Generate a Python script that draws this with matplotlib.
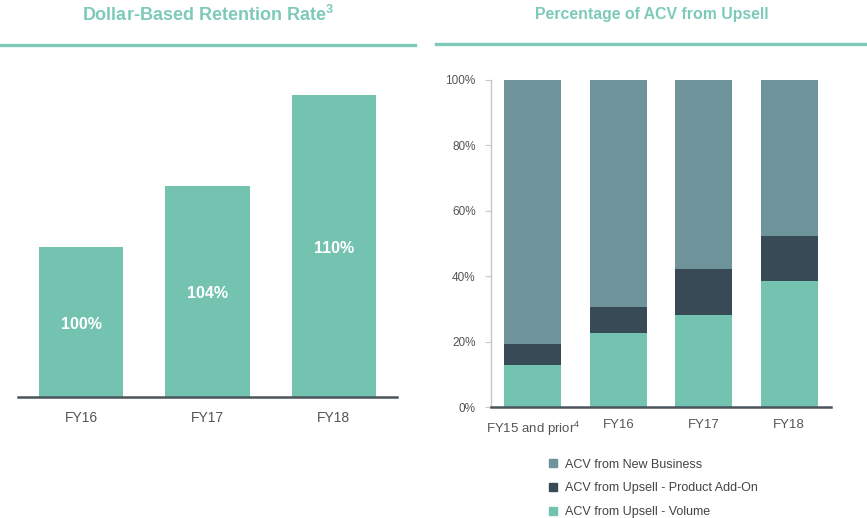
import matplotlib
matplotlib.use("Agg")
import matplotlib.pyplot as plt
from matplotlib.patches import Patch
from matplotlib.lines import Line2D

plt.rcParams['font.family'] = ['Liberation Sans', 'DejaVu Sans']
plt.rcParams['mathtext.fontset'] = 'custom'
plt.rcParams['mathtext.rm'] = 'Liberation Sans'
plt.rcParams['mathtext.bf'] = 'Liberation Sans:bold'

# ---- data ----
retention_years = ["FY16", "FY17", "FY18"]
retention_rate = [100, 104, 110]

acv_years = ["FY15 and prior$^{4}$", "FY16", "FY17", "FY18"]
acv_volume = [12.8, 22.7, 28.0, 38.6]
acv_addon = [6.5, 7.9, 14.1, 13.6]
acv_new = [100 - v - a for v, a in zip(acv_volume, acv_addon)]
pct_ticks = [0, 20, 40, 60, 80, 100]

TEAL = "#74c3b1"
SLATE = "#6f939b"
DARK = "#394a57"
TITLE_C = "#7dcab8"
AXIS_C = "#4a545c"
TXT = "#555555"

W, H = 867, 518
fig = plt.figure(figsize=(W / 100, H / 100), dpi=100)

def fx(px):
    return px / W

def fy(py):
    return 1 - py / H

# ---- titles and rules ----
fig.text(fx(208), fy(15), r"Dollar-Based Retention Rate$^{\mathbf{3}}$", ha="center", va="center",
         fontsize=13, fontweight="bold", color=TITLE_C)
fig.text(fx(652), fy(14), "Percentage of ACV from Upsell", ha="center", va="center",
         fontsize=11.4, fontweight="bold", color=TITLE_C)
fig.add_artist(Line2D([fx(0), fx(415)], [fy(44.5), fy(44.5)], color=TITLE_C, lw=2.4,
                      transform=fig.transFigure))
fig.add_artist(Line2D([fx(436), fx(867)], [fy(43.5), fy(43.5)], color=TITLE_C, lw=2.4,
                      transform=fig.transFigure))

# ---- left chart ----
ax1 = fig.add_axes([fx(18), fy(397), fx(379), (397 - 60) / H])
ymin1 = 90.08
scale = 15.15  # px per unit
ax1.set_ylim(ymin1, ymin1 + (397 - 60) / scale)
ax1.set_xlim(-0.5, 2.5)
x1 = list(range(len(retention_years)))
ax1.bar(x1, [r - ymin1 for r in retention_rate], bottom=ymin1, width=0.667, color=TEAL)
for xi, r in zip(x1, retention_rate):
    ax1.text(xi, (ymin1 + r) / 2 - 0.15, f"{r}%", ha="center", va="center", color="white",
             fontsize=11.5, fontweight="bold")
ax1.set_xticks(x1)
ax1.set_xticklabels(retention_years, fontsize=10, color=TXT)
ax1.tick_params(axis="x", length=0, pad=10)
ax1.set_yticks([])
for s in ["top", "right", "left"]:
    ax1.spines[s].set_visible(False)
ax1.spines["bottom"].set_color(AXIS_C)
ax1.spines["bottom"].set_linewidth(1.8)

# ---- right chart ----
ax2 = fig.add_axes([fx(491), fy(407), fx(340), 327 / H])
ax2.set_ylim(0, 100)
ax2.set_xlim(-0.49, 3.49)
x2 = list(range(len(acv_years)))
w = 0.667
ax2.bar(x2, acv_volume, width=w, color=TEAL, label="ACV from Upsell - Volume")
ax2.bar(x2, acv_addon, width=w, bottom=acv_volume, color=DARK,
        label="ACV from Upsell - Product Add-On")
ax2.bar(x2, acv_new, width=w, bottom=[v + a for v, a in zip(acv_volume, acv_addon)],
        color=SLATE, label="ACV from New Business")
ax2.set_xticks(x2)
ax2.set_xticklabels(acv_years, fontsize=9.5, color=TXT)
ax2.tick_params(axis="x", length=0, pad=9)
ax2.set_yticks(pct_ticks)
ax2.set_yticklabels([f"{t}%" for t in pct_ticks], fontsize=8.5, color=TXT)
ax2.tick_params(axis="y", length=4, color="#c8c8c8", pad=7)
for s in ["top", "right"]:
    ax2.spines[s].set_visible(False)
ax2.spines["left"].set_color("#c8c8c8")
ax2.spines["left"].set_linewidth(1.0)
ax2.spines["bottom"].set_color(AXIS_C)
ax2.spines["bottom"].set_linewidth(1.8)
ax2.spines["bottom"].set_zorder(5)

handles = [Patch(color=SLATE), Patch(color=DARK), Patch(color=TEAL)]
labels = ["ACV from New Business", "ACV from Upsell - Product Add-On",
          "ACV from Upsell - Volume"]
fig.legend(handles, labels, loc="upper left", bbox_to_anchor=(fx(549), fy(458.5)),
           frameon=False, fontsize=9, handlelength=0.65, handleheight=0.65,
           handletextpad=0.6, labelspacing=0.95, labelcolor="#444444",
           borderaxespad=0, borderpad=0)

fig.savefig("out.png", dpi=100)
